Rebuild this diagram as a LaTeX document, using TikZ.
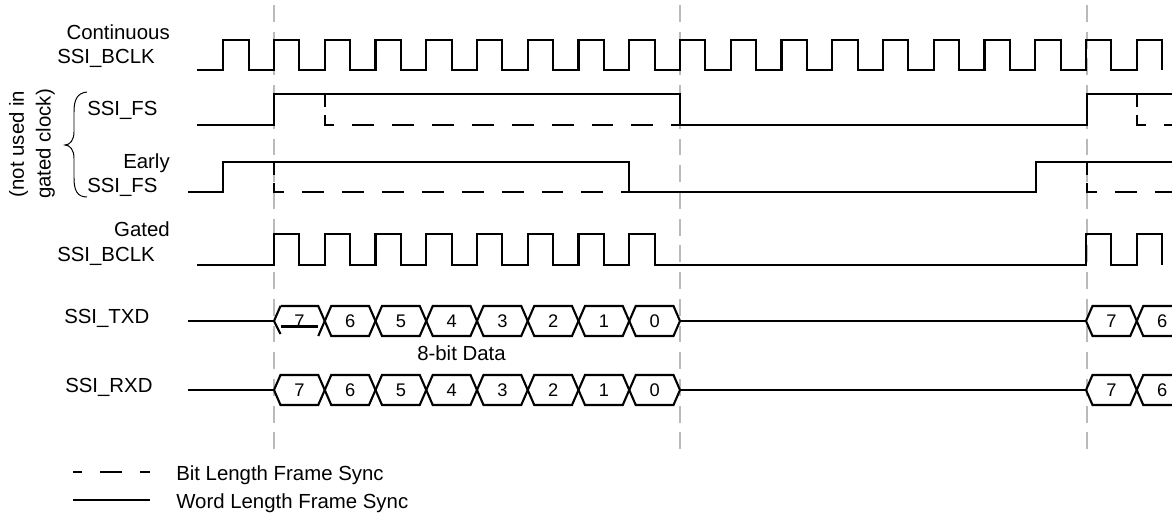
\documentclass[tikz,border=0pt]{standalone}
\usepackage{fontspec}
\setmainfont{Liberation Sans}
\newcommand{\bitper}{50.75}
\tikzset{
  sig/.style={line width=1.5pt},
  bitsync/.style={sig, dash pattern=on 9.2pt off 5.7pt on 13.5pt off 12.8pt
      on 15.6pt off 12.8pt on 15.6pt off 12.8pt on 15.6pt off 12.8pt
      on 15.6pt off 12.8pt on 15.6pt off 12.8pt on 15.6pt off 12.8pt
      on 15.6pt off 12.8pt on 15.6pt off 12.8pt on 15.6pt off 12.8pt},
  legdash/.style={sig, dash pattern=on 15.6pt off 12.8pt, dash phase=9.2pt},
  guide/.style={line width=1.2pt, draw=black!27, dash pattern=on 12pt off 7pt},
  lbl/.style={font=\fontsize{14.5}{17}\selectfont, inner sep=0pt},
  bitno/.style={font=\fontsize{13}{15}\selectfont, inner sep=0pt},
}
\begin{document}
\begin{tikzpicture}[x=0.025cm, y=-0.025cm]
    \useasboundingbox (0,0) rectangle (1172,513);
    \clip (0,0) rectangle (1172,513);
    % linhas guia
    \foreach \gx in {274,680,1087}
        \draw[guide] (\gx,5) -- (\gx,458);

    % Continuous SSI_BCLK
    \node[lbl, anchor=base east] (contA) at (170,39) {Continuous};
    \node[lbl, anchor=base east] (contB) at (155,63) {SSI\_BCLK};
    \draw[sig] (197,70) \foreach \k in {-1,...,17} { -- ({274+\k*\bitper},70) -- ++(0,-30) -- ++({\bitper/2},0) -- ++(0,30) };

    % SSI_FS
    \node[lbl, anchor=base west] (fs) at (87,115) {SSI\_FS};
    \draw[sig] (197,125) -- (274,125) -- (274,94) -- (680,94) -- (680,125) -- (1087,125) -- (1087,94) -- (1172,94);
    \draw[bitsync] (325,94) -- (325,125) -- (680,125);
    \draw[bitsync] (1137,94) -- (1137,125) -- (1172,125);

    % Early SSI_FS
    \node[lbl, anchor=base east] (earlyA) at (170,168) {Early};
    \node[lbl, anchor=base west] (earlyB) at (87,192) {SSI\_FS};
    \draw[sig] (188,192) -- (223,192) -- (223,162) -- (629,162) -- (629,192) -- (1036,192) -- (1036,162) -- (1172,162);
    \draw[bitsync] (274,162) -- (274,192) -- (629,192);
    \draw[bitsync] (1087,162) -- (1087,192) -- (1172,192);

    % chave
    \draw[line width=0.7pt] (87,92) .. controls (77,93) and (74,100) .. (74,112) -- (74,132)
        .. controls (74,140) and (70,145) .. (65,145)
        .. controls (70,145) and (74,150) .. (74,158) -- (74,178)
        .. controls (74,190) and (77,197) .. (87,197);
    \node[lbl, rotate=90, align=center, font=\fontsize{14.5}{19}\selectfont] (notused) at (32,144) {(not used in\\gated clock)};

    % Gated SSI_BCLK
    \node[lbl, anchor=base east] (gatedA) at (170,236) {Gated};
    \node[lbl, anchor=base east] (gatedB) at (155,261) {SSI\_BCLK};
    \draw[sig] (197,265) \foreach \k in {0,1,2,3,4,5,6,7,16,17} { -- ({274+\k*\bitper},265) -- ++(0,-31) -- ++({\bitper/2},0) -- ++(0,31) };

    % SSI_TXD
    \node[lbl, anchor=base west] (txd) at (64,323) {SSI\_TXD};
    \draw[sig] (188,321) -- (274,321);
    \draw[sig] (680,321) -- (1087,321);
    \draw[sig] (280.5,306) -- (274,321) -- (280.5,334);
    \draw[sig] (280.5,306) -- (318.25,306) -- (324.75,321) -- (318.25,336);
    \draw[sig] (280.5,326.5) -- (318.25,326.5);
    \node[bitno] (tx0) at (299.4,321) {7};
    \foreach \k/\bit in {1/6,2/5,3/4,4/3,5/2,6/1,7/0,16/7,17/6} {
        \draw[sig] ({274+\k*\bitper},321) -- ++(6.5,-15) -- ++({\bitper-13},0) -- ++(6.5,15) -- ++(-6.5,15) -- ++({13-\bitper},0) -- cycle;
        \node[bitno] (tx\k) at ({274+(\k+0.5)*\bitper},321) {\bit};
    }
    \node[lbl, anchor=base west] (data) at (417,360) {8-bit Data};

    % SSI_RXD
    \node[lbl, anchor=base west] (rxd) at (65,392) {SSI\_RXD};
    \draw[sig] (188,390) -- (274,390);
    \draw[sig] (680,390) -- (1087,390);
    \foreach \k/\bit in {0/7,1/6,2/5,3/4,4/3,5/2,6/1,7/0,16/7,17/6} {
        \draw[sig] ({274+\k*\bitper},390) -- ++(6.5,-15) -- ++({\bitper-13},0) -- ++(6.5,15) -- ++(-6.5,15) -- ++({13-\bitper},0) -- cycle;
        \node[bitno] (rx\k) at ({274+(\k+0.5)*\bitper},390) {\bit};
    }

    % legenda
    \draw[legdash] (73,472) -- (150,472);
    \node[lbl, anchor=base west] (legBit) at (176,480) {Bit Length Frame Sync};
    \draw[sig] (73,500) -- (150,500);
    \node[lbl, anchor=base west] (legWord) at (176,508) {Word Length Frame Sync};
\end{tikzpicture}
\end{document}
